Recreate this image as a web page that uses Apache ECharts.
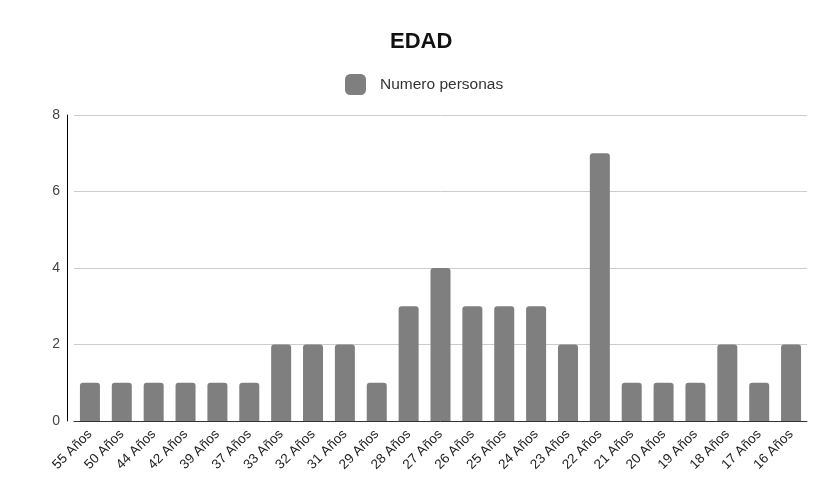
<!DOCTYPE html>
<html><head><meta charset="utf-8">
<script src="https://cdn.jsdelivr.net/npm/echarts@6/dist/echarts.min.js"></script>
<style>html,body{margin:0;padding:0;background:#fff}#c{width:813px;height:482px}</style>
</head><body><div id="c"></div>
<script>
const categories = ["55 Años","50 Años","44 Años","42 Años","39 Años","37 Años","33 Años","32 Años","31 Años","29 Años","28 Años","27 Años","26 Años","25 Años","24 Años","23 Años","22 Años","21 Años","20 Años","19 Años","18 Años","17 Años","16 Años"];
const numeroPersonas = [1,1,1,1,1,1,2,2,2,1,3,4,3,3,3,2,7,1,1,1,2,1,2];
const seriesName = "Numero personas";
const titleText = "EDAD";

const F = 'Liberation Sans, Arial, sans-serif';
const chart = echarts.init(document.getElementById('c'), null, {renderer:'canvas'});
chart.setOption({
  animation:false,
  backgroundColor:'#ffffff',
  title:{text:titleText,left:385,top:26,textStyle:{fontFamily:F,fontSize:22,fontWeight:'bold',color:'#111'}},
  legend:{top:69,left:340,itemWidth:21,itemHeight:21,itemGap:14,icon:'roundRect',padding:5,
    textStyle:{fontFamily:F,fontSize:15.5,color:'#333',padding:[0,0,0,9]},data:[seriesName]},
  grid:{left:74,right:6,top:115,bottom:61,containLabel:false},
  xAxis:{type:'category',data:categories,boundaryGap:true,
    axisLine:{lineStyle:{color:'#333',width:1}},axisTick:{show:false},
    axisLabel:{interval:0,rotate:45,margin:11,fontFamily:F,fontSize:13.5,color:'#222'}},
  yAxis:{type:'value',min:0,max:8,interval:2,offset:7,
    axisLine:{show:true,lineStyle:{color:'#000',width:1}},axisTick:{show:false},
    axisLabel:{margin:7,fontFamily:F,fontSize:14,color:'#444'},
    splitLine:{lineStyle:{color:'#cccccc',width:1}}},
  series:[{name:seriesName,type:'bar',data:numeroPersonas,barWidth:20,
    itemStyle:{color:'#7f7f7f',borderRadius:[3,3,0,0]}}]
});
</script></body></html>
